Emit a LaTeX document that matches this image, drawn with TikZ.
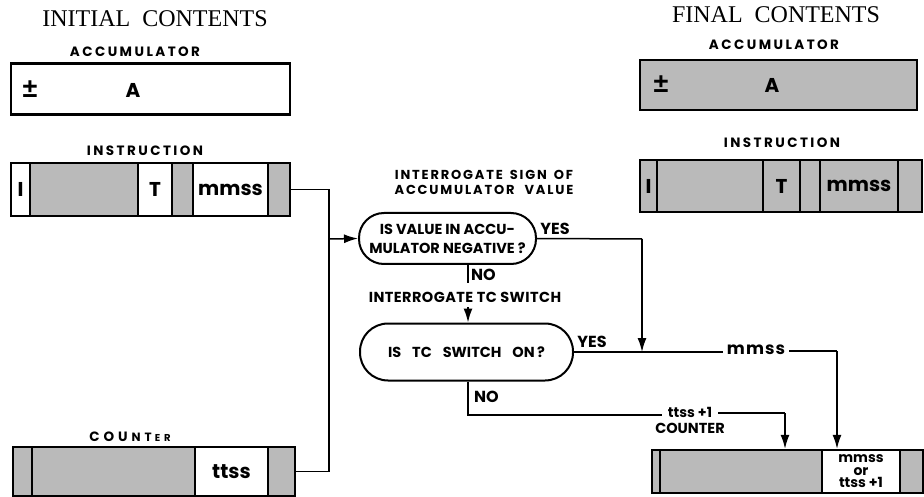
\documentclass[tikz,border=0pt]{standalone}
\usepackage{fontspec}
\setmainfont{Liberation Serif}
\newfontfamily\geo{Poppins}
\newfontfamily\pmfont{Liberation Sans}
\usetikzlibrary{arrows.meta}
\begin{document}
\begin{tikzpicture}[x=1pt,y=-1pt,
  regbox/.style={draw, line width=2.4pt, inner sep=0pt},
  cw/.style={draw, line width=1.8pt, fill=white, inner sep=0pt, font=\geo\bfseries\fontsize{20}{20}\selectfont},
  cg/.style={cw, fill=black!27},
  pm/.style={inner sep=0pt, font=\pmfont\bfseries\fontsize{27}{27}\selectfont},
  dec/.style={draw, line width=2pt, rounded corners=25pt, inner sep=0pt, align=center, font=\geo\bfseries\fontsize{14.5}{19}\selectfont},
  conn/.style={line width=1.5pt},
  arr/.style={conn, -{Latex[length=14pt,width=9pt]}},
  ttl/.style={font=\fontsize{24}{24}\selectfont},
  reglab/.style={inner sep=0pt, font=\geo\bfseries\fontsize{13.5}{13.5}\selectfont\addfontfeatures{LetterSpace=18}},
  btxt/.style={inner sep=0pt, font=\geo\bfseries\fontsize{16}{16}\selectfont},
]
\useasboundingbox[fill=white] (0,0) rectangle (924,497);

% ---------- titles
\node[ttl] (tinit) at (155,19) {INITIAL\ \ CONTENTS};
\node[ttl] (tfin) at (776,15) {FINAL\ \ CONTENTS};

% ---------- initial accumulator
\node[reglab] (lacc1) at (135,52) {ACCUMULATOR};
\node[regbox, fill=white, minimum width=279pt, minimum height=51pt] (iacc) at (150.5,89) {};
\node[pm] (ipm) at (30,89) {±};
\node[cw, draw=none, fill=none] (ia) at (133,90) {A};

% ---------- initial instruction
\node[reglab] (lins1) at (145,151) {INSTRUCTION};
\node[cw, minimum width=19pt,  minimum height=53pt] (ii1) at (20.5,189.5) {I};
\node[cg, minimum width=108pt, minimum height=53pt] (ii2) at (84,189.5) {};
\node[cw, minimum width=34pt,  minimum height=53pt] (ii3) at (155,189.5) {T};
\node[cg, minimum width=21pt,  minimum height=53pt] (ii4) at (182.5,189.5) {};
\node[cw, minimum width=75pt,  minimum height=53pt] (ii5) at (230.5,189.5) {mmss};
\node[cg, minimum width=22pt,  minimum height=53pt] (ii6) at (279,189.5) {};
\node[regbox, minimum width=279pt, minimum height=53pt] (iins) at (150.5,189.5) {};

% ---------- initial counter
\node[inner sep=0pt, font=\geo\bfseries\fontsize{13.5}{13.5}\selectfont] (lcnt1) at (130,437)
  {C\hspace{4pt}O\hspace{4pt}U\hspace{4pt}{\fontsize{12}{12}\selectfont N\hspace{4pt}T}\hspace{3pt}{\fontsize{10}{10}\selectfont E\hspace{4pt}R}};
\node[cg, minimum width=19pt,  minimum height=49pt] (ic1) at (22.5,471.5) {};
\node[cg, minimum width=163pt, minimum height=49pt] (ic2) at (113.5,471.5) {};
\node[cw, minimum width=73pt,  minimum height=49pt] (ic3) at (231.5,471.5) {ttss};
\node[cg, minimum width=27pt,  minimum height=49pt] (ic4) at (281.5,471.5) {};
\node[regbox, minimum width=282pt, minimum height=49pt] (icnt) at (154,471.5) {};

% ---------- final accumulator
\node[reglab] (lacc2) at (774,45) {ACCUMULATOR};
\node[regbox, fill=black!27, minimum width=277pt, minimum height=50pt] (facc) at (778.5,85) {};
\node[pm] (fpm) at (661,84) {±};
\node[cw, draw=none, fill=none] (fa) at (772,85) {A};

% ---------- final instruction
\node[reglab] (lins2) at (782,143) {INSTRUCTION};
\node[cg, minimum width=17pt,  minimum height=52pt] (fi1) at (648.5,186) {I};
\node[cg, minimum width=106pt, minimum height=52pt] (fi2) at (710,186) {};
\node[cg, minimum width=37pt,  minimum height=52pt] (fi3) at (781.5,186) {T};
\node[cg, minimum width=20pt,  minimum height=52pt] (fi4) at (810,186) {};
\node[cg, minimum width=78pt,  minimum height=52pt] (fi5) at (859,186) {mmss};
\node[cg, minimum width=24pt,  minimum height=52pt] (fi6) at (910,186) {};
\node[regbox, minimum width=282pt, minimum height=52pt] (fins) at (781,186) {};

% ---------- final counter
\node[cg, minimum width=8pt,   minimum height=43pt] (fc1) at (656,471.5) {};
\node[cg, minimum width=162pt, minimum height=43pt] (fc2) at (741,471.5) {};
\node[cw, minimum width=78pt,  minimum height=43pt, align=center,
      font=\geo\bfseries\fontsize{14}{12.5}\selectfont] (fc3) at (861,471.5) {mmss\\or\\ttss +1};
\node[cg, minimum width=23pt,  minimum height=43pt] (fc4) at (911.5,471.5) {};
\node[regbox, minimum width=271pt, minimum height=43pt] (fcnt) at (787.5,471.5) {};
\node[btxt, font=\geo\bfseries\fontsize{14.5}{14.5}\selectfont] (lcnt2) at (690,428) {COUNTER};

% ---------- decisions
\node[reglab, align=center, font=\geo\bfseries\fontsize{13}{15.5}\selectfont\addfontfeatures{LetterSpace=14}] (lq1) at (484,182.5) {INTERROGATE\hspace{7pt}SIGN\hspace{7pt}OF\\ACCUMULATOR\hspace{10pt}VALUE};
\node[dec, minimum width=177pt, minimum height=51pt] (e1) at (447.5,238.5) {IS VALUE\ IN\ ACCU-\\MULATOR\ NEGATIVE ?};
\node[btxt] (yes1) at (555,229) {YES};
\node[btxt, anchor=west] (no1) at (471,275) {NO};
\node[btxt, font=\geo\bfseries\fontsize{14.5}{14.5}\selectfont\addfontfeatures{LetterSpace=3}] (lq2) at (465,297) {INTERROGATE TC SWITCH};
\node[dec, minimum width=213pt, minimum height=57pt, rounded corners=28pt] (e2) at (466.5,352) {IS\hspace{11pt}TC\hspace{11pt}SWITCH\hspace{11pt}ON\,?};
\node[btxt] (yes2) at (592,342) {YES};
\node[btxt, anchor=west] (no2) at (474,397) {NO};
\node[btxt, inner sep=4pt, font=\geo\bfseries\fontsize{17}{17}\selectfont\addfontfeatures{LetterSpace=6}] (mm) at (756,350) {mmss};
\node[btxt, inner sep=6pt, font=\geo\bfseries\fontsize{14}{14}\selectfont] (tt) at (690,412) {ttss +1};

% ---------- connectors
\coordinate (jtop) at (329,189.5);
\coordinate (jbot) at (329,471.5);
\coordinate (jmid) at (329,239);
\draw[conn] (iins.east) -- (jtop) -- (jbot) -- (icnt.east);
\draw[arr] (jmid) -- (e1.west);

\coordinate (c1) at (642,239);
\coordinate (j2) at (642,352);
\draw[conn] (e1.east) -- (c1);
\draw[arr] (c1) -- (j2);

\coordinate (n1) at (468,283);
\draw[conn] (n1 |- e1.south) -- (n1);
\coordinate (n1b) at (468,307);
\draw[arr] (n1b) -- (n1b |- e2.north);

\draw[conn] (e2.east) -- (mm.west |- e2.east);
\coordinate (c2) at (837,351);
\draw[conn] (mm.east |- c2) -- (c2);
\draw[arr] (c2) -- (c2 |- fcnt.north);

\coordinate (n2) at (468,415);
\draw[conn] (n2 |- e2.south) -- (n2) -- (tt.west |- n2);
\coordinate (c3) at (785,413);
\draw[conn] (tt.east |- c3) -- (c3);
\draw[arr] (c3) -- (c3 |- fcnt.north);
\end{tikzpicture}
\end{document}
